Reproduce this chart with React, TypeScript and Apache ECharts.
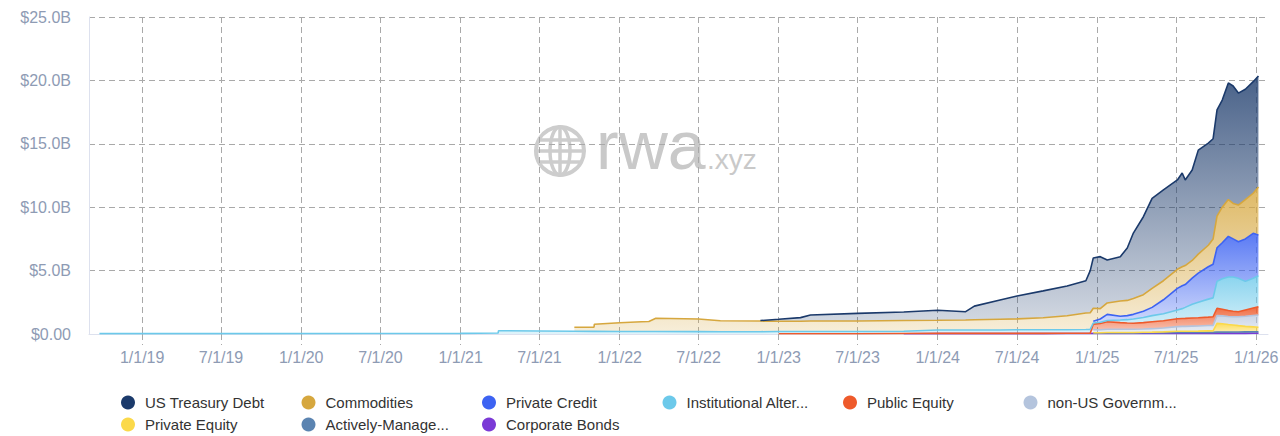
import React, { useEffect, useRef } from "react";
import * as echarts from "echarts";

// ---------- data (values in billions of USD) ----------
const dates = [
  "2018-09-25", "2019-06-01", "2020-06-01", "2021-01-01", "2021-03-28", "2021-03-29", "2021-07-01", "2021-09-19",
  "2021-11-03", "2021-11-04", "2022-01-01", "2022-02-20", "2022-03-09", "2022-03-25", "2022-07-01", "2022-08-20",
  "2022-11-20", "2023-01-01", "2023-02-20", "2023-03-15", "2023-07-01", "2023-10-15", "2024-01-01", "2024-03-05",
  "2024-03-25", "2024-05-23", "2024-07-01", "2024-08-30", "2024-10-24", "2024-12-06", "2024-12-16", "2024-12-23",
  "2025-01-08", "2025-01-24", "2025-02-23", "2025-03-11", "2025-03-25", "2025-04-17", "2025-05-07", "2025-06-02",
  "2025-07-04", "2025-07-15", "2025-07-22", "2025-08-07", "2025-08-21", "2025-09-13", "2025-09-24", "2025-10-03",
  "2025-10-15", "2025-10-29", "2025-11-09", "2025-11-21", "2025-12-07", "2025-12-25", "2026-01-06",
];

const N = null;

const usTreasuryDebt = [
  N, N, N, N, N, N, N, N, N, N, N, N, N, N, N, N,
  0.04, 0.16, 0.28, 0.48, 0.6, 0.67, 0.79, 0.66, 1.08, 1.52, 1.81, 2.12, 2.35, 2.55, 3.32, 3.97,
  4.1, 3.39, 3.5, 4.13, 5.16, 6.15, 7.1, 7.16, 7.05, 7.4, 6.75, 7.13, 8.2, 8.06, 7.9, 8.37,
  8.45, 9.2, 9.26, 8.83, 8.7, 8.8, 8.75,
];

const commodities = [
  N, N, N, N, N, N, N, 0.31, 0.33, 0.56, 0.69, 0.77, 0.79, 1.04, 0.99, 0.87,
  0.84, 0.8, 0.81, 0.82, 0.83, 0.84, 0.76, 0.78, 0.8, 0.84, 0.86, 0.95, 1.1, 1.3, 1.32, 1.03,
  0.82, 0.9, 1.2, 1.2, 1.25, 1.3, 1.5, 1.5, 1.5, 1.5, 1.5, 1.4, 1.5, 1.7, 2.0, 2.5,
  2.8, 2.9, 2.8, 2.89, 3.1, 3.16, 3.79,
];

const privateCredit = [
  N, N, N, N, N, N, N, N, N, N, N, N, N, N, N, N,
  N, N, N, N, N, N, N, N, N, N, N, N, N, N, N, 0.13,
  0.25, 0.48, 0.3, 0.32, 0.37, 0.5, 0.65, 1.1, 1.7, 1.8, 1.8, 2.05, 2.3, 2.55, 2.65, 2.65,
  2.85, 3.2, 3.0, 2.88, 3.35, 3.54, 3.21,
];

const institutionalAlternativeFunds = [
  0.03, 0.03, 0.04, 0.05, 0.08, 0.26, 0.24, 0.22, 0.21, 0.21, 0.2, 0.2, 0.2, 0.2, 0.19, 0.18,
  0.18, 0.18, 0.18, 0.18, 0.18, 0.18, 0.27, 0.27, 0.27, 0.27, 0.28, 0.28, 0.28, 0.29, 0.3, 0.09,
  0.1, 0.1, 0.2, 0.26, 0.33, 0.4, 0.48, 0.55, 0.7, 0.78, 0.87, 1.09, 1.22, 1.42, 1.49, 2.12,
  2.4, 2.65, 2.7, 2.64, 2.25, 2.35, 2.45,
];

const publicEquity = [
  N, N, N, N, N, N, N, N, N, N, N, N, N, N, N, N,
  N, 0.02, 0.02, 0.02, 0.02, 0.02, 0.02, 0.02, 0.02, 0.02, 0.02, 0.02, 0.02, 0.02, 0.02, 0.45,
  0.5, 0.6, 0.53, 0.5, 0.47, 0.5, 0.55, 0.58, 0.62, 0.62, 0.63, 0.64, 0.65, 0.66, 0.68, 0.58,
  0.52, 0.47, 0.44, 0.4, 0.5, 0.59, 0.65,
];

const nonUsGovernmentDebt = [
  N, N, N, N, N, N, N, N, N, N, N, N, N, N, N, N,
  N, N, N, N, N, N, N, N, N, N, N, N, N, N, N, 0.23,
  0.23, 0.25, 0.25, 0.25, 0.26, 0.26, 0.27, 0.3, 0.36, 0.38, 0.38, 0.4, 0.4, 0.42, 0.43, 0.61,
  0.62, 0.63, 0.65, 0.7, 0.8, 0.9, 0.97,
];

const privateEquity = [
  N, N, N, N, N, N, N, N, N, N, N, N, N, N, N, N,
  N, N, N, N, N, N, N, N, N, N, N, N, N, N, N, 0.02,
  0.02, 0.03, 0.03, 0.03, 0.03, 0.04, 0.05, 0.06, 0.1, 0.1, 0.1, 0.1, 0.11, 0.12, 0.12, 0.69,
  0.66, 0.6, 0.55, 0.5, 0.43, 0.38, 0.35,
];

const activelyManagedStrategies = [
  N, N, N, N, N, N, N, N, N, N, N, N, N, N, N, N,
  N, N, N, N, N, N, N, N, N, N, N, N, N, N, N, 0.03,
  0.03, 0.04, 0.04, 0.04, 0.04, 0.05, 0.05, 0.06, 0.07, 0.07, 0.07, 0.07, 0.07, 0.08, 0.08, 0.1,
  0.1, 0.1, 0.11, 0.11, 0.12, 0.12, 0.12,
];

const corporateBonds = [
  N, N, N, N, N, N, N, N, N, N, N, N, N, N, N, N,
  N, N, N, N, N, 0.02, 0.03, 0.03, 0.03, 0.03, 0.03, 0.03, 0.04, 0.04, 0.04, 0.05,
  0.05, 0.05, 0.05, 0.05, 0.05, 0.05, 0.05, 0.05, 0.05, 0.05, 0.05, 0.05, 0.05, 0.05, 0.05, 0.05,
  0.05, 0.05, 0.05, 0.05, 0.05, 0.06, 0.06,
];

const xTickLabels = [
  "1/1/19", "7/1/19", "1/1/20", "7/1/20", "1/1/21", "7/1/21", "1/1/22", "7/1/22",
  "1/1/23", "7/1/23", "1/1/24", "7/1/24", "1/1/25", "7/1/25", "1/1/26",
];

// legend text as shown
const legendLabels: Record<string, string> = {
  "US Treasury Debt": "US Treasury Debt",
  Commodities: "Commodities",
  "Private Credit": "Private Credit",
  "Institutional Alternative Funds": "Institutional Alter...",
  "Public Equity": "Public Equity",
  "non-US Government Debt": "non-US Governm...",
  "Private Equity": "Private Equity",
  "Actively-Managed Strategies": "Actively-Manage...",
  "Corporate Bonds": "Corporate Bonds",
};

// ---------- styles ----------
const FONT = '"Liberation Sans", Arial, Helvetica, sans-serif';

// stack order: bottom -> top
const seriesDefs = [
  { name: "Corporate Bonds", values: corporateBonds, rgb: [123, 58, 214], a: [0.9, 0.5] },
  { name: "Actively-Managed Strategies", values: activelyManagedStrategies, rgb: [91, 132, 177], a: [0.8, 0.35] },
  { name: "Private Equity", values: privateEquity, rgb: [251, 217, 74], a: [0.9, 0.4] },
  { name: "non-US Government Debt", values: nonUsGovernmentDebt, rgb: [180, 196, 221], a: [0.7, 0.3] },
  { name: "Public Equity", values: publicEquity, rgb: [238, 90, 43], a: [0.9, 0.3] },
  { name: "Institutional Alternative Funds", values: institutionalAlternativeFunds, rgb: [108, 201, 234], a: [0.8, 0.22] },
  { name: "Private Credit", values: privateCredit, rgb: [61, 99, 242], a: [0.85, 0.25] },
  { name: "Commodities", values: commodities, rgb: [214, 167, 62], a: [0.8, 0.2] },
  { name: "US Treasury Debt", values: usTreasuryDebt, rgb: [27, 58, 107], a: [0.8, 0.2] },
];

const legendColumns = [
  ["US Treasury Debt", "Private Equity"],
  ["Commodities", "Actively-Managed Strategies"],
  ["Private Credit", "Corporate Bonds"],
  ["Institutional Alternative Funds"],
  ["Public Equity"],
  ["non-US Government Debt"],
];

function parseTick(s: string): number {
  const [m, d, y] = s.split("/").map(Number);
  return new Date(2000 + y, m - 1, d).getTime();
}

function parseIso(s: string): number {
  const [y, m, d] = s.split("-").map(Number);
  return new Date(y, m - 1, d).getTime();
}

function rgba(c: number[], a: number) {
  return `rgba(${c[0]},${c[1]},${c[2]},${a})`;
}

function fmtDate(v: number) {
  const d = new Date(v);
  return `${d.getMonth() + 1}/${d.getDate()}/${String(d.getFullYear()).slice(2)}`;
}

export default function App() {
  const ref = useRef<HTMLDivElement>(null);

  useEffect(() => {
    if (!ref.current) return;
    const chart = echarts.init(ref.current, null, { renderer: "svg" });
    const tickSet = new Set(xTickLabels.map(parseTick).map(fmtDate));
    const times = dates.map(parseIso);
    const gridColor = "#a9a9a9";
    const labelColor = "#8e9bb4";

    const series = seriesDefs.map((s) => ({
      name: s.name,
      type: "line",
      stack: "total",
      symbol: "none",
      showSymbol: false,
      color: rgba(s.rgb, 1),
      lineStyle: { width: 1.6, color: rgba(s.rgb, 1) },
      areaStyle: {
        opacity: 1,
        color: new echarts.graphic.LinearGradient(0, 0, 0, 1, [
          { offset: 0, color: rgba(s.rgb, s.a[0]) },
          { offset: 1, color: rgba(s.rgb, s.a[1]) },
        ]),
      },
      emphasis: { disabled: true },
      data: times.map((t, i) => [t, s.values[i] === null ? "-" : s.values[i]]),
    }));

    const stroke = "#cdcdcd";
    const option: any = {
      animation: false,
      textStyle: { fontFamily: FONT },
      grid: { left: 89, right: 12, top: 17, bottom: 102, containLabel: false, outerBoundsMode: "none" },
      xAxis: {
        type: "time",
        min: new Date(2018, 8, 1).getTime(),
        max: new Date(2026, 0, 28).getTime(),
        splitNumber: 15,
        axisLine: { show: true, onZero: false, lineStyle: { color: "#dde1ee", width: 1 } },
        axisTick: {
          show: true,
          length: 11,
          lineStyle: { color: gridColor, type: [6, 4], width: 1 },
        },
        axisLabel: {
          color: labelColor,
          fontSize: 16,
          margin: 15,
          fontFamily: FONT,
          hideOverlap: false,
          showMinLabel: false,
          showMaxLabel: false,
          formatter: (v: number) => {
            const s = fmtDate(v);
            return tickSet.has(s) ? s : "";
          },
        },
        splitLine: {
          show: true,
          showMinLine: false,
          showMaxLine: false,
          lineStyle: { color: gridColor, type: [6, 4], width: 1 },
        },
      },
      yAxis: {
        type: "value",
        min: 0,
        max: 25,
        interval: 5,
        axisLine: { show: true, onZero: false, lineStyle: { color: "#dde1ee", width: 1 } },
        axisTick: { show: false },
        axisLabel: {
          color: labelColor,
          fontSize: 16,
          margin: 18,
          fontFamily: FONT,
          formatter: (v: number) => (v === 0 ? "$0.00" : `$${v.toFixed(1)}B`),
        },
        splitLine: { show: true, lineStyle: { color: gridColor, type: [6, 4], width: 1 } },
      },
      legend: legendColumns.map((names, i) => ({
        orient: "vertical",
        left: 121 + i * 180.5,
        top: 395,
        padding: 0,
        itemGap: 7,
        itemWidth: 14,
        itemHeight: 14,
        icon: "circle",
        selectedMode: false,
        data: names,
        formatter: (n: string) => legendLabels[n] ?? n,
        textStyle: { fontSize: 15, color: "#333333", fontFamily: FONT, padding: [0, 0, 0, 5] },
      })),
      graphic: [
        { type: "circle", z: 0, shape: { cx: 560, cy: 151, r: 24 }, style: { fill: "none", stroke, lineWidth: 4 } },
        { type: "ellipse", z: 0, shape: { cx: 560, cy: 151, rx: 10, ry: 24 }, style: { fill: "none", stroke, lineWidth: 3.5 } },
        { type: "line", z: 0, shape: { x1: 560, y1: 127, x2: 560, y2: 175 }, style: { stroke, lineWidth: 3.5 } },
        { type: "line", z: 0, shape: { x1: 536, y1: 151, x2: 584, y2: 151 }, style: { stroke, lineWidth: 3.5 } },
        { type: "line", z: 0, shape: { x1: 539, y1: 140, x2: 581, y2: 140 }, style: { stroke, lineWidth: 3.5 } },
        { type: "line", z: 0, shape: { x1: 539, y1: 162, x2: 581, y2: 162 }, style: { stroke, lineWidth: 3.5 } },
        {
          type: "text",
          z: 0,
          x: 596,
          y: 145,
          style: { text: "rwa", font: `68px ${FONT}`, fill: "#c9c9c9", verticalAlign: "middle" },
        },
        {
          type: "text",
          z: 0,
          x: 707,
          y: 159,
          style: { text: ".xyz", font: `28px ${FONT}`, fill: "#c9c9c9", verticalAlign: "middle" },
        },
      ],
      series,
    };

    chart.setOption(option);
    return () => chart.dispose();
  }, []);

  return (
    <div
      ref={ref}
      style={{ position: "absolute", left: 0, top: 0, width: 1280, height: 436, background: "#ffffff" }}
    />
  );
}
